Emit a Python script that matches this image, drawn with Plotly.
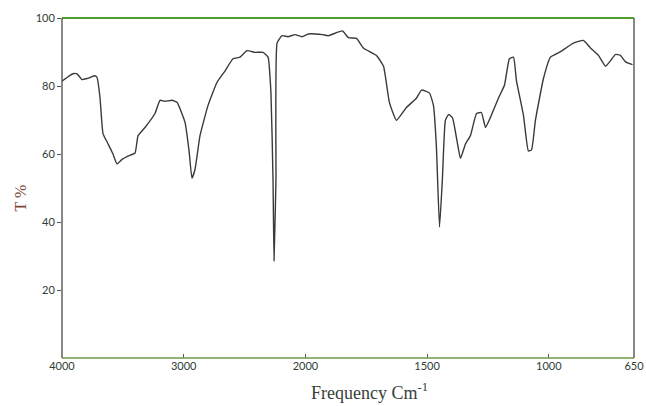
import plotly.graph_objects as go

# Wavenumber (cm-1) and transmittance (%)
wavenumber = [4000, 3959, 3910, 3877, 3836, 3795, 3770, 3729, 3712, 3688, 3663, 3622,
              3581, 3548, 3507, 3458, 3400, 3375, 3318, 3236, 3195, 3154, 3096, 3055,
              2989, 2956, 2932, 2907, 2866, 2800, 2726, 2661, 2595, 2537, 2480, 2414,
              2348, 2307, 2283, 2266, 2258, 2242, 2233, 2192, 2143, 2085, 2028, 1988,
              1930, 1906, 1848, 1823, 1790, 1762, 1708, 1679, 1655, 1626, 1585, 1544,
              1523, 1490, 1474, 1462, 1449, 1437, 1425, 1412, 1396, 1375, 1363, 1342,
              1322, 1297, 1277, 1260, 1240, 1207, 1182, 1162, 1145, 1133, 1104, 1084,
              1071, 1055, 1022, 993, 952, 899, 858, 829, 796, 767, 747, 726, 706, 685, 656]
transmittance = [81.4, 82.5, 83.6, 83.6, 81.9, 82.2, 82.5, 83.0, 82.5, 76.7, 66.0, 63.0,
                 60.0, 57.1, 58.4, 59.4, 60.3, 65.4, 67.8, 71.9, 75.8, 75.5, 75.8, 75.2,
                 69.3, 60.9, 52.9, 55.5, 65.4, 74.3, 81.1, 84.4, 88.0, 88.5, 90.4, 89.9,
                 89.9, 88.5, 77.9, 52.3, 28.6, 52.3, 92.6, 94.8, 94.5, 95.1, 94.5, 95.3,
                 95.1, 94.8, 96.2, 94.2, 94.0, 91.2, 89.0, 85.8, 75.2, 69.9, 73.7, 76.4,
                 78.8, 77.9, 74.3, 62.4, 38.5, 52.9, 69.9, 71.6, 70.7, 63.0, 58.7, 63.0,
                 65.4, 71.9, 72.2, 67.8, 70.7, 76.4, 80.3, 88.0, 88.5, 81.6, 71.3, 60.9,
                 61.2, 69.9, 82.2, 88.5, 90.1, 92.6, 93.4, 91.2, 89.0, 85.8, 87.4, 89.3,
                 89.0, 87.1, 86.3]

x_tick_labels = [4000, 3000, 2000, 1500, 1000, 650]
y_tick_labels = [100, 80, 60, 40, 20]


def ir_scale(f):
    # IR chart scale: expanded by a factor of 2 below 2000 cm-1
    return 4000 - f if f >= 2000 else 2000 + (2000 - f) * 2


xs = [ir_scale(f) for f in wavenumber]

fig = go.Figure()
fig.add_trace(go.Scatter(x=xs, y=transmittance, mode="lines",
                         line=dict(color="#3a3a3a", width=1.4, shape="spline", smoothing=0.4),
                         hoverinfo="skip"))

tick_font = dict(family="Lato, Open Sans, sans-serif", size=11, color="#2f3d35")

fig.update_layout(
    width=646, height=406,
    margin=dict(l=62, r=12, t=18, b=48),
    paper_bgcolor="white", plot_bgcolor="white",
    showlegend=False,
    xaxis=dict(range=[0, ir_scale(650)], tickvals=[ir_scale(v) for v in x_tick_labels],
               ticktext=[str(v) for v in x_tick_labels], ticks="inside", ticklen=4,
               tickcolor="#555", showgrid=False, zeroline=False, showline=False,
               tickfont=tick_font, automargin=False),
    yaxis=dict(range=[0, 100], tickvals=y_tick_labels, ticktext=[str(v) for v in y_tick_labels],
               ticks="outside", ticklen=4, tickcolor="#555", showgrid=False, zeroline=False,
               showline=False, tickfont=tick_font, automargin=False),
    shapes=[
        dict(type="line", xref="paper", yref="paper", x0=0, x1=1, y0=1, y1=1,
             line=dict(color="#4f9f2a", width=2.2)),
        dict(type="line", xref="paper", yref="paper", x0=0, x1=1, y0=0, y1=0,
             line=dict(color="#6f9a45", width=1.6)),
        dict(type="line", xref="paper", yref="paper", x0=0, x1=0, y0=0, y1=1,
             line=dict(color="#555555", width=1.4)),
        dict(type="line", xref="paper", yref="paper", x0=1, x1=1, y0=0, y1=1,
             line=dict(color="#555555", width=1.4)),
    ],
    annotations=[
        dict(text="Frequency Cm<sup>-1</sup>", xref="paper", yref="paper", x=0.538, y=-0.138,
             xanchor="center", yanchor="bottom", showarrow=False,
             font=dict(family="Liberation Serif, DejaVu Serif, serif", size=18, color="#34423a")),
        dict(text="T %", xref="paper", yref="paper", x=-0.073, y=0.47, textangle=-90,
             xanchor="center", yanchor="middle", showarrow=False,
             font=dict(family="Liberation Serif, DejaVu Serif, serif", size=16, color="#7d4a3a")),
    ],
)

fig.write_html("out.html", config={"displayModeBar": False},
               post_script="document.body.style.margin='0';document.body.style.overflow='hidden';")
